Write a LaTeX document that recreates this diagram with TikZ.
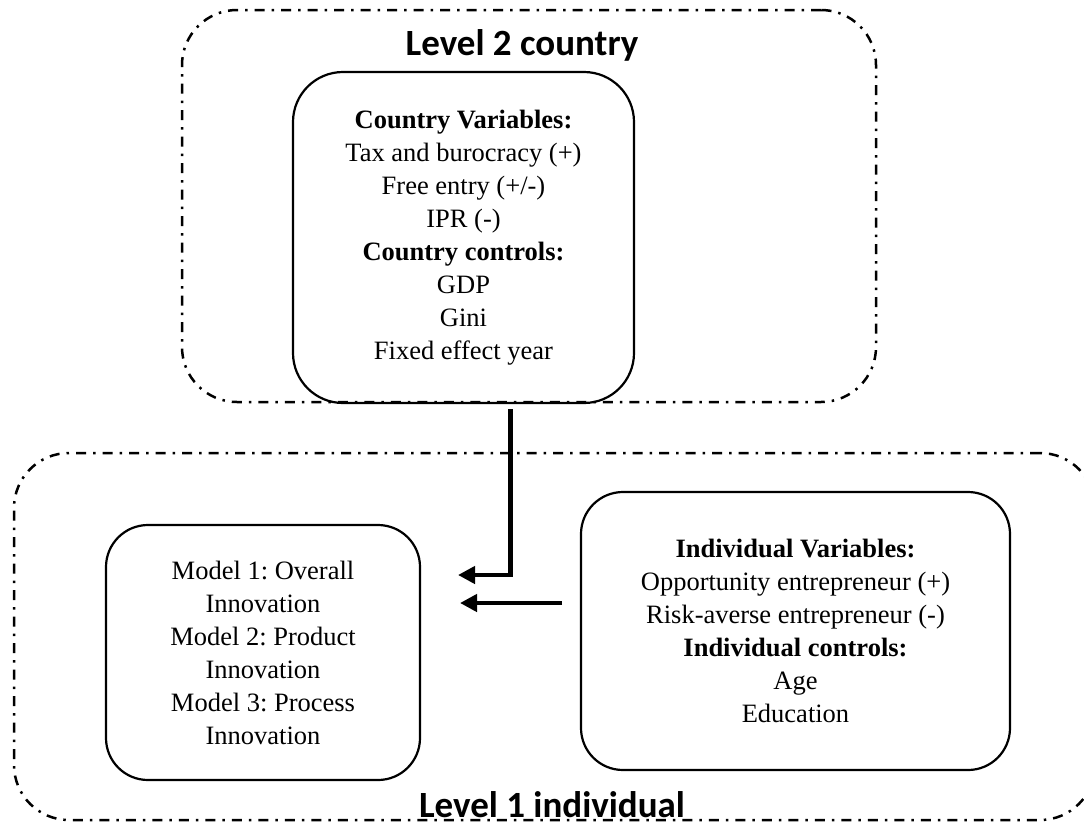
\documentclass[tikz,border=0pt]{standalone}
\usepackage{fontspec}
\setmainfont{Liberation Serif}
\newfontfamily\titlefont{Carlito}
\usetikzlibrary{arrows.meta,positioning}
\frenchspacing

\begin{document}
\begin{tikzpicture}[x=1pt, y=-1pt,
    level/.style = {draw, line width=2.5pt, rounded corners=55pt, dash pattern=on 10pt off 7pt on 2.5pt off 7pt},
    main/.style = {draw, line width=2.2pt, align=center, inner sep=0pt, font=\fontsize{26.5}{33}\selectfont},
    title/.style = {inner sep=0pt, font=\titlefont\bfseries\fontsize{37}{44}\selectfont},
    link/.style = {line width=4.5pt, -{Triangle[length=17pt,width=17pt]}}]
    \useasboundingbox (0,0) rectangle (1084,825);

    % the two levels
    \node[level, minimum width=694pt, minimum height=392pt] (lvl2) at (529,206) {};
    \node[level, minimum width=1081pt, minimum height=367pt] (lvl1) at (554.5,636.5) {};
    \node[title, anchor=base] (lvl2title) at (522,55) {Level 2 country};
    \node[title, anchor=base] (lvl1title) at (552,817) {Level 1 individual};

    % boxes
    \node[main, rounded corners=50pt, minimum width=341pt, minimum height=331pt] (country) at (463.5,237.5)
        {\textbf{Country Variables:}\\Tax and burocracy (+)\\Free entry (+/-)\\IPR (-)\\
         \textbf{Country controls:}\\GDP\\Gini\\Fixed effect year};
    \node[main, rounded corners=42pt, minimum width=314pt, minimum height=255pt] (model) at (263,652.5)
        {Model 1: Overall\\Innovation\\Model 2: Product\\Innovation\\Model 3: Process\\Innovation};
    \node[main, rounded corners=42pt, minimum width=429pt, minimum height=278pt] (indiv) at (795.5,631)
        {\textbf{Individual Variables:}\\Opportunity entrepreneur (+)\\Risk-averse entrepreneur (-)\\
         \textbf{Individual controls:}\\Age\\Education};

    % arrows
    \coordinate (tipA) at (458,575);
    \coordinate (tailB) at (562,603);
    \coordinate (tipB) at (460,603);
    \draw[link] ([xshift=47pt,yshift=-5pt]country.south) |- (tipA);
    \draw[link] (tailB) -- (tipB);
\end{tikzpicture}
\end{document}
